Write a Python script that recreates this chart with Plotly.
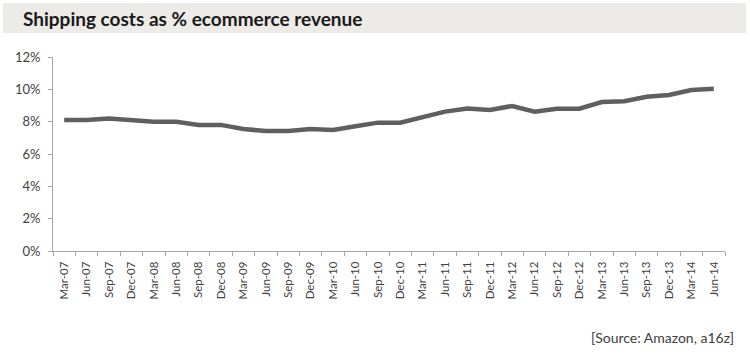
import plotly.graph_objects as go

quarters = ["Mar-07", "Jun-07", "Sep-07", "Dec-07",
            "Mar-08", "Jun-08", "Sep-08", "Dec-08",
            "Mar-09", "Jun-09", "Sep-09", "Dec-09",
            "Mar-10", "Jun-10", "Sep-10", "Dec-10",
            "Mar-11", "Jun-11", "Sep-11", "Dec-11",
            "Mar-12", "Jun-12", "Sep-12", "Dec-12",
            "Mar-13", "Jun-13", "Sep-13", "Dec-13",
            "Mar-14", "Jun-14"]
shipping_pct = [8.1, 8.1, 8.2, 8.1,
                8.0, 8.0, 7.8, 7.8,
                7.55, 7.42, 7.42, 7.54,
                7.48, 7.72, 7.94, 7.94,
                8.27, 8.62, 8.82, 8.72,
                8.97, 8.62, 8.8, 8.8,
                9.21, 9.26, 9.54, 9.65,
                9.96, 10.04]
y_ticks = [0, 2, 4, 6, 8, 10, 12]
y_labels = ["0%", "2%", "4%", "6%", "8%", "10%", "12%"]

title_text = "Shipping costs as % ecommerce revenue"
source_text = "[Source: Amazon, a16z]"

W, H = 750, 358
L, R, T, B = 53, 25, 57, 107
pw, ph = W - L - R, H - T - B

def px_x(p):
    return (p - L) / pw

def px_y(p):
    return (H - B - p) / ph

fig = go.Figure()
fig.add_trace(go.Scatter(
    x=quarters, y=shipping_pct, mode="lines",
    line=dict(color="#5f5f5f", width=4.5),
    hoverinfo="skip", showlegend=False,
))

fig.update_layout(
    width=W, height=H,
    margin=dict(l=L, r=R, t=T, b=B, pad=0),
    paper_bgcolor="white", plot_bgcolor="white",
    font=dict(family="Lato, Open Sans, sans-serif", color="#404040", size=13),
    showlegend=False,
    xaxis=dict(
        type="category", range=[-0.5, len(quarters) - 0.5],
        tickson="boundaries", ticks="outside", ticklen=4, tickwidth=1,
        tickcolor="#a6a6a6", showline=True, linecolor="#a6a6a6", linewidth=1,
        showgrid=False, zeroline=False, tickangle=-90, automargin=False,
        ticklabelstandoff=5,
        tickfont=dict(size=11.5, color="#404040"),
    ),
    yaxis=dict(
        range=[0, 12], tickvals=y_ticks, ticktext=y_labels,
        ticks="outside", ticklen=4, tickwidth=1, tickcolor="#a6a6a6",
        showline=True, linecolor="#a6a6a6", linewidth=1,
        showgrid=False, zeroline=False, automargin=False,
        ticklabelstandoff=5,
        tickfont=dict(size=13, color="#404040"),
    ),
    shapes=[dict(
        type="rect", xref="paper", yref="paper",
        x0=px_x(3), x1=px_x(746), y0=px_y(33), y1=px_y(3),
        fillcolor="#edebe7", line=dict(width=0), layer="below",
    )],
    annotations=[
        dict(text="<b>" + title_text + "</b>", xref="paper", yref="paper",
             x=px_x(21), y=px_y(18.5), xanchor="left", yanchor="middle",
             showarrow=False, font=dict(size=19, color="#1a1a1a",
                                        family="Lato, Open Sans, sans-serif")),
        dict(text=source_text, xref="paper", yref="paper",
             x=px_x(736), y=px_y(337), xanchor="right", yanchor="middle",
             showarrow=False, font=dict(size=14, color="#404040")),
    ],
)

fig.write_html(
    "out.html",
    config={"displayModeBar": False, "staticPlot": True},
    post_script="document.body.style.margin='0';document.body.style.padding='0';",
)
